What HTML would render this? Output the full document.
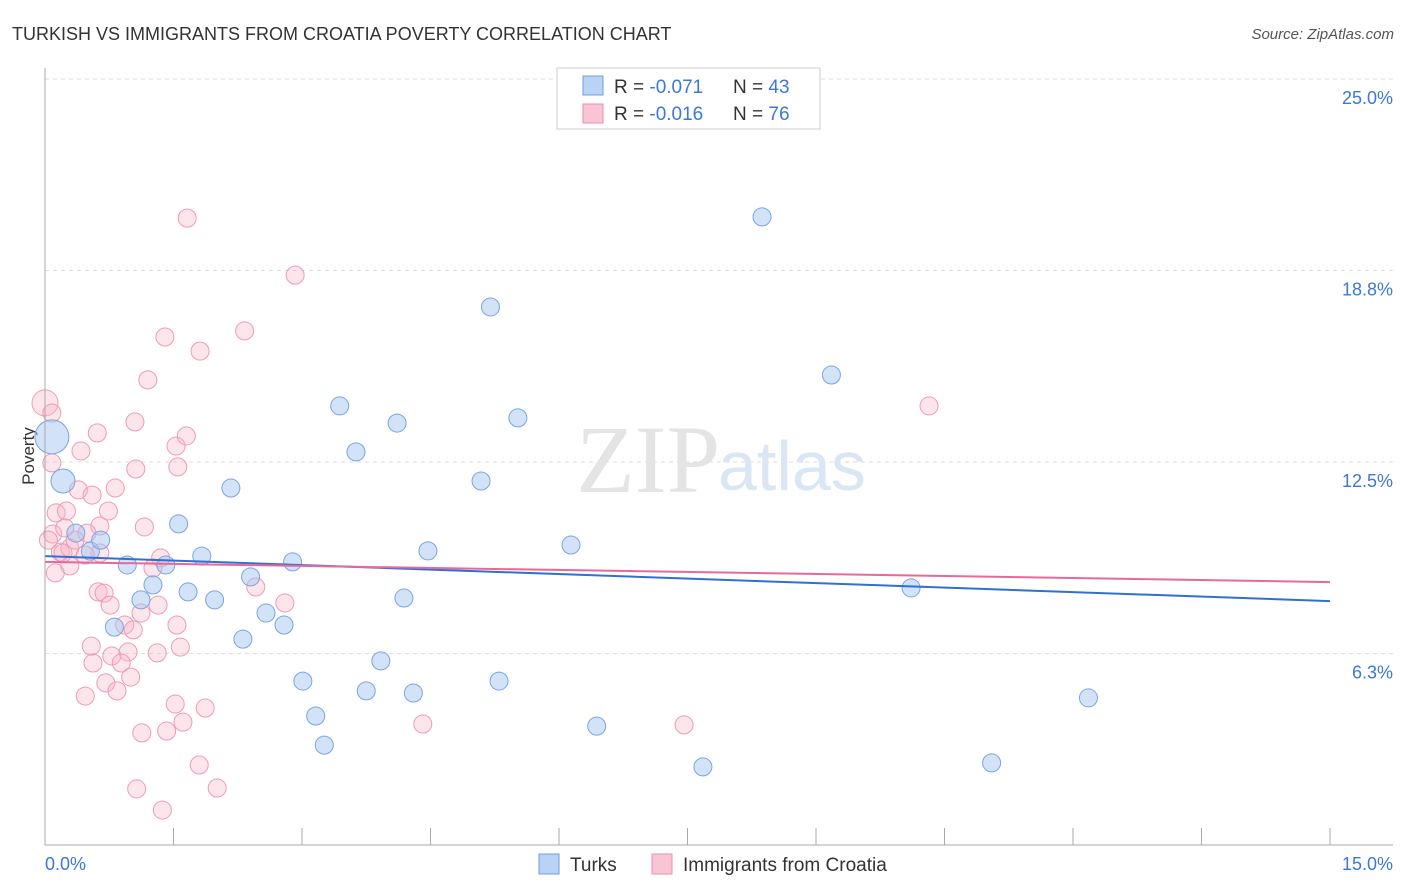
<!DOCTYPE html>
<html><head><meta charset="utf-8"><style>
body{margin:0;background:#fff;font-family:"Liberation Sans",sans-serif}
</style></head><body>
<svg id="c" width="1406" height="892" style="display:block">
<text x="12" y="40" font-size="18" fill="#333">TURKISH VS IMMIGRANTS FROM CROATIA POVERTY CORRELATION CHART</text>
<text x="1394" y="39" font-size="15" fill="#555" font-style="italic" text-anchor="end">Source: ZipAtlas.com</text>
<text x="34" y="456" font-size="17" fill="#333" text-anchor="middle" transform="rotate(-90 34 456)">Poverty</text>
<g id="grid"></g>
<text x="720" y="492" font-size="96" fill="#e4e4e4" text-anchor="end" font-family="Liberation Serif">ZIP</text>
<text x="718" y="490" font-size="70" fill="#dbe6f5">atlas</text>
<g id="pts"></g>
<g id="trend"></g>
<line x1="45" y1="68" x2="45" y2="845" stroke="#aaa"/>
<line x1="45" y1="845" x2="1393" y2="845" stroke="#aaa"/>
<text x="45" y="870" font-size="18" fill="#3b78d8">0.0%</text>
<text x="1393" y="870" font-size="18" fill="#3b78d8" text-anchor="end">15.0%</text>
<g>
<rect x="557" y="68" width="263" height="61" fill="#fff" stroke="#ccc"/>
<rect x="583" y="76" width="20" height="19" fill="#b9d3f5" stroke="#6f9ee0"/>
<rect x="583" y="104" width="20" height="19" fill="#f9c5d4" stroke="#eb8fab"/>
<text x="614" y="93" font-size="19" fill="#333">R = <tspan fill="#3b78d8">-0.071</tspan></text>
<text x="733" y="93" font-size="19" fill="#333">N = <tspan fill="#3b78d8">43</tspan></text>
<text x="614" y="120" font-size="19" fill="#333">R = <tspan fill="#3b78d8">-0.016</tspan></text>
<text x="733" y="120" font-size="19" fill="#333">N = <tspan fill="#3b78d8">76</tspan></text>
</g>
<g>
<rect x="539" y="854" width="20" height="20" fill="#b9d3f5" stroke="#6f9ee0"/>
<text x="570" y="871" font-size="19" fill="#333">Turks</text>
<rect x="652" y="854" width="20" height="20" fill="#f9c5d4" stroke="#eb8fab"/>
<text x="683" y="871" font-size="19" fill="#333">Immigrants from Croatia</text>
</g>
</svg>
<script>
const yTicks=[6.25,12.5,18.75,25];
const yTickLabels=["6.3%","12.5%","18.8%","25.0%"];
const xTicks=[1.5,3,4.5,6,7.5,9,10.5,12,13.5,15];
const turksX=[0.08,0.21,0.36,0.53,0.65,0.96,1.26,1.12,0.81,1.41,1.56,1.67,1.83,1.98,2.17,2.31,2.40,2.58,2.79,2.89,3.01,3.16,3.26,3.44,3.63,3.75,3.92,4.11,4.19,4.30,4.47,5.09,5.20,5.30,5.52,6.14,6.44,7.68,8.37,9.18,10.11,11.05,12.18];
const turksY=[13.32,11.88,10.18,9.59,9.95,9.14,8.49,8.00,7.11,9.14,10.48,8.26,9.43,8.00,11.65,6.72,8.75,7.57,7.18,9.24,5.35,4.21,3.26,14.33,12.83,5.03,6.01,13.77,8.06,4.96,9.60,11.88,17.56,5.35,13.94,9.79,3.88,2.55,20.50,15.34,8.39,2.68,4.80];
const croX=[0.00,0.08,0.61,0.42,1.05,1.20,1.53,1.65,1.06,1.55,0.08,0.39,0.55,0.82,0.13,0.25,0.74,0.64,1.16,0.09,0.49,0.18,0.29,0.64,1.35,1.26,0.12,0.29,0.21,0.62,0.69,0.76,1.32,1.12,0.93,1.03,1.54,1.58,1.31,0.97,0.78,0.54,0.56,0.89,1.00,0.71,0.84,0.47,1.52,1.87,1.61,1.42,1.13,1.80,1.07,2.01,1.37,2.46,2.80,1.66,2.92,1.40,2.33,1.81,10.32,7.46,4.41,0.35,0.47,0.04,0.23];
const croY=[14.43,14.10,13.45,12.86,13.81,15.18,13.02,13.35,12.27,12.34,12.47,11.59,11.42,11.65,10.84,10.90,10.90,10.41,10.38,10.15,10.18,9.56,9.69,9.53,9.37,9.04,8.88,9.11,9.53,8.26,8.22,7.83,7.83,7.57,7.18,7.02,7.18,6.46,6.27,6.30,6.17,6.49,5.94,5.94,5.48,5.29,5.03,4.86,4.60,4.47,4.01,3.72,3.66,2.61,1.83,1.86,1.14,8.42,7.90,20.46,18.60,16.58,16.78,16.12,14.33,3.92,3.95,9.95,9.46,9.95,10.35];
const turksTrend=[9.43,7.96];
const croTrend=[9.24,8.58];
const X=v=>45+v/15*1285;
const Y=v=>845-v/25*766;
const NS="http://www.w3.org/2000/svg";
function mk(t,a,p){const e=document.createElementNS(NS,t);for(const k in a)e.setAttribute(k,a[k]);p.appendChild(e);return e;}
const grid=document.getElementById('grid');
yTicks.forEach((t,i)=>{
 const l=mk('line',{x1:45,x2:1393,y1:Y(t),y2:Y(t),stroke:'#ddd','stroke-dasharray':'4,4'},grid);
 
 
 const tx=mk('text',{x:1393,y:Y(t)+25,'font-size':18,fill:'#3b78d8','text-anchor':'end'},grid);
 tx.textContent=yTickLabels[i];
 
 
});
xTicks.forEach(t=>{
 const l=mk('line',{x1:X(t),x2:X(t),y1:828,y2:845,stroke:'#aaa'},grid);
 
 
});
const pts=document.getElementById('pts');
croX.forEach((x,i)=>{
 const r=i===0?13:9;
 const c=mk('circle',{cx:X(x),cy:Y(croY[i]),r:r,fill:'rgba(248,180,200,0.35)',stroke:'#ee9bb5','stroke-width':1},pts);
 
 
});
turksX.forEach((x,i)=>{
 const r=i===0?17:(i===1?12:9);
 const c=mk('circle',{cx:X(x),cy:Y(turksY[i]),r:r,fill:'rgba(165,198,240,0.5)',stroke:'#7aa5e2','stroke-width':1},pts);
 
 
});
const tr=document.getElementById('trend');
const t1=mk('line',{x1:X(0),y1:Y(turksTrend[0]),x2:X(15),y2:Y(turksTrend[1]),stroke:'#2f6fd6','stroke-width':2},tr);


const t2=mk('line',{x1:X(0),y1:Y(croTrend[0]),x2:X(15),y2:Y(croTrend[1]),stroke:'#e8689a','stroke-width':2},tr);


</script>
</body></html>
